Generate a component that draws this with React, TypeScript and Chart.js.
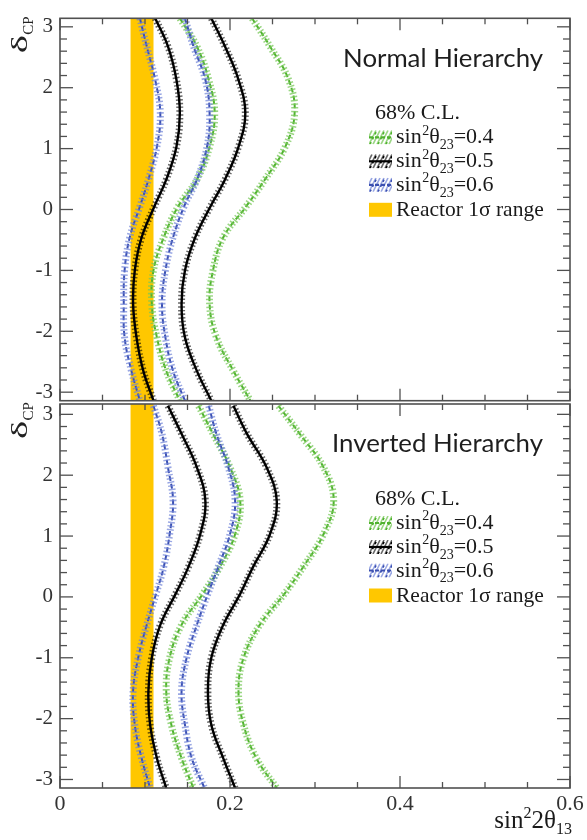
import React, { useEffect, useRef } from "react";
import { Chart, registerables } from "chart.js";

Chart.register(...registerables);

const W = 587;
const H = 840;
const SERIF = '"Liberation Serif", "Times New Roman", serif';
const SANS = 'Lato, "Open Sans", sans-serif';

// delta_CP sample points (y values) shared by all contours
const DELTA = [3.14, 2.68, 2.13, 1.58, 1.03, 0.49, 0.05, -0.46, -1.0, -1.55, -2.1, -2.65, -3.14];

// Reactor 1 sigma range in sin^2 2theta13
const REACTOR_BAND = [0.083, 0.110];

// Normal hierarchy contours (sin^2 2theta13 at each DELTA)
const NH_S04_IN = [0.141, 0.161, 0.175, 0.182, 0.176, 0.161, 0.139, 0.122, 0.110, 0.108, 0.114, 0.125, 0.141];
const NH_S04_OUT = [0.226, 0.247, 0.269, 0.276, 0.265, 0.241, 0.219, 0.192, 0.180, 0.176, 0.184, 0.204, 0.224];
const NH_S05_IN = [0.112, 0.127, 0.137, 0.141, 0.137, 0.125, 0.111, 0.096, 0.088, 0.086, 0.090, 0.098, 0.110];
const NH_S05_OUT = [0.178, 0.194, 0.210, 0.218, 0.210, 0.194, 0.177, 0.159, 0.147, 0.143, 0.147, 0.161, 0.178];
const NH_S06_IN = [0.094, 0.102, 0.112, 0.118, 0.114, 0.104, 0.094, 0.082, 0.076, 0.075, 0.076, 0.084, 0.094];
const NH_S06_OUT = [0.147, 0.157, 0.171, 0.176, 0.173, 0.161, 0.146, 0.133, 0.124, 0.120, 0.124, 0.133, 0.147];

// Inverted hierarchy contours
const IH_S04_IN = [0.163, 0.180, 0.200, 0.212, 0.206, 0.188, 0.168, 0.143, 0.129, 0.125, 0.131, 0.143, 0.157];
const IH_S04_OUT = [0.257, 0.282, 0.310, 0.322, 0.310, 0.286, 0.264, 0.235, 0.216, 0.210, 0.216, 0.231, 0.255];
const IH_S05_IN = [0.127, 0.143, 0.161, 0.171, 0.165, 0.151, 0.136, 0.118, 0.108, 0.104, 0.106, 0.114, 0.125];
const IH_S05_OUT = [0.204, 0.220, 0.243, 0.255, 0.247, 0.227, 0.212, 0.192, 0.178, 0.174, 0.178, 0.192, 0.206];
const IH_S06_IN = [0.110, 0.120, 0.127, 0.133, 0.129, 0.122, 0.113, 0.102, 0.092, 0.086, 0.088, 0.096, 0.106];
const IH_S06_OUT = [0.175, 0.184, 0.198, 0.206, 0.200, 0.186, 0.174, 0.161, 0.149, 0.143, 0.147, 0.155, 0.170];

const PANEL_TITLES = ["Normal Hierarchy", "Inverted Hierarchy"];
const CL_LABEL = "68% C.L.";
const SIN23_VALUES = ["0.4", "0.5", "0.6"];
const REACTOR_LABEL = "Reactor 1σ range";

const GOLD = "#ffc700";
const GREEN = "#4fb22e";
const GREEN_L = "rgba(120,200,90,0.75)";
const BLUE = "#3a4fb0";
const BLUE_L = "rgba(110,130,215,0.7)";
const BLACK = "#000000";
const BLACK_L = "rgba(0,0,0,0.6)";
const FRAME = "#505050";

const STYLES = [
  { dark: GREEN, light: GREEN_L, solid: false },
  { dark: BLACK, light: BLACK_L, solid: true },
  { dark: BLUE, light: BLUE_L, solid: false },
];

function curve(xs: number[], st: { dark: string; light: string; solid: boolean }) {
  const data = xs.map((v, i) => ({ x: v, y: DELTA[i] }));
  return [
    {
      data,
      showLine: true,
      borderColor: st.light,
      borderWidth: 7,
      borderDash: [1.5, 2.2],
      pointRadius: 0,
      tension: 0.4,
      fill: false,
    },
    {
      data,
      showLine: true,
      borderColor: st.dark,
      borderWidth: st.solid ? 2.4 : 2,
      borderDash: st.solid ? [] : [5, 3],
      pointRadius: 0,
      tension: 0.4,
      fill: false,
    },
  ];
}

function line(ctx: CanvasRenderingContext2D, x0: number, y0: number, x1: number, y1: number) {
  ctx.beginPath();
  ctx.moveTo(x0, y0);
  ctx.lineTo(x1, y1);
  ctx.stroke();
}

function drawSinTheta(ctx: CanvasRenderingContext2D, x: number, y: number, val: string, size: number) {
  const small = Math.round(size * 0.62);
  ctx.textAlign = "left";
  ctx.textBaseline = "alphabetic";
  ctx.font = `${size}px ${SERIF}`;
  ctx.fillText("sin", x, y);
  x += ctx.measureText("sin").width;
  ctx.font = `${small}px ${SERIF}`;
  ctx.fillText("2", x + 0.5, y - size * 0.4);
  x += ctx.measureText("2").width + 0.5;
  ctx.font = `${size}px ${SERIF}`;
  ctx.fillText("θ", x, y);
  x += ctx.measureText("θ").width;
  ctx.font = `${small}px ${SERIF}`;
  ctx.fillText("23", x, y + size * 0.26);
  x += ctx.measureText("23").width;
  ctx.font = `${size}px ${SERIF}`;
  ctx.fillText("=" + val, x, y);
}

function drawSymbol(ctx: CanvasRenderingContext2D, x: number, c: number, st: { dark: string; light: string; solid: boolean }) {
  const w = 23;
  const h = 14;
  ctx.save();
  ctx.beginPath();
  ctx.rect(x, c - h / 2, w, h);
  ctx.clip();
  ctx.lineWidth = 1.6;
  ctx.strokeStyle = st.light;
  for (let i = -4; i < 8; i++) {
    line(ctx, x + i * 4, c + h / 2, x + i * 4 + 7, c - h / 2);
  }
  ctx.strokeStyle = st.dark;
  ctx.setLineDash([2.5, 3]);
  for (let i = -4; i < 8; i += 2) {
    line(ctx, x + i * 4 + 1, c + h / 2, x + i * 4 + 8, c - h / 2);
  }
  ctx.restore();
  ctx.save();
  ctx.strokeStyle = st.dark;
  ctx.lineWidth = 2.2;
  ctx.setLineDash(st.solid ? [] : [4, 2]);
  line(ctx, x, c, x + w, c);
  ctx.restore();
}

function makeOverlay(isNH: boolean) {
  return {
    id: "overlay" + (isNH ? "NH" : "IH"),
    beforeDatasetsDraw(chart: any) {
      const { ctx, chartArea: a, scales } = chart;
      const xs = scales.x;
      const x0 = xs.getPixelForValue(REACTOR_BAND[0]);
      const x1 = xs.getPixelForValue(REACTOR_BAND[1]);
      ctx.save();
      ctx.fillStyle = GOLD;
      ctx.fillRect(x0, a.top, x1 - x0, a.bottom - a.top);
      ctx.restore();
    },
    afterDatasetsDraw(chart: any) {
      const { ctx, chartArea: a, scales } = chart;
      const xs = scales.x;
      const ys = scales.y;
      ctx.save();
      // frame
      ctx.strokeStyle = FRAME;
      ctx.lineWidth = 1.6;
      ctx.strokeRect(a.left, a.top, a.right - a.left, a.bottom - a.top);
      ctx.lineWidth = 1.3;
      for (let k = -16; k <= 16; k++) {
        const v = k * 0.2;
        if (v < ys.min - 1e-9 || v > ys.max + 1e-9) continue;
        const len = k % 5 === 0 ? 13 : 7;
        const py = ys.getPixelForValue(v);
        line(ctx, a.left, py, a.left + len, py);
        line(ctx, a.right, py, a.right - len, py);
      }
      for (let k = 0; k <= 12; k++) {
        const v = k * 0.05;
        const len = k % 4 === 0 ? 12 : 6;
        const px = xs.getPixelForValue(v);
        line(ctx, px, a.top, px, a.top + len);
        line(ctx, px, a.bottom, px, a.bottom - len);
      }

      // y title delta_CP
      ctx.fillStyle = "#222";
      ctx.save();
      ctx.translate(27, a.top + 35);
      ctx.rotate(-Math.PI / 2);
      ctx.textAlign = "left";
      ctx.textBaseline = "alphabetic";
      ctx.font = `24px ${SERIF}`;
      const dw = ctx.measureText("δ").width;
      ctx.save();
      ctx.scale(1.6, 1);
      ctx.fillText("δ", 0, 0);
      ctx.restore();
      ctx.font = `15px ${SERIF}`;
      ctx.fillText("CP", dw * 1.6 + 0.5, 6);
      ctx.restore();

      // panel title
      const title = PANEL_TITLES[isNH ? 0 : 1];
      const target = isNH ? 200 : 211;
      ctx.font = `24px ${SANS}`;
      const tw = ctx.measureText(title).width;
      const ts = 24 * (target / tw);
      ctx.font = `${ts.toFixed(2)}px ${SANS}`;
      ctx.textAlign = "right";
      ctx.textBaseline = "middle";
      ctx.fillStyle = "#1e1e1e";
      ctx.fillText(title, 543, a.top + 40);

      // legend
      ctx.fillStyle = "#1a1a1a";
      ctx.textAlign = "left";
      ctx.textBaseline = "alphabetic";
      ctx.font = `22px ${SERIF}`;
      ctx.fillText(CL_LABEL, 375, a.top + 93 + 7.5);
      const rows = [119, 143, 166.5];
      SIN23_VALUES.forEach((v, i) => {
        const c = a.top + rows[i];
        drawSymbol(ctx, 369, c, STYLES[i]);
        ctx.fillStyle = "#1a1a1a";
        drawSinTheta(ctx, 396, c + 6, v, 22);
      });
      const rc = a.top + 191.5;
      ctx.fillStyle = GOLD;
      ctx.fillRect(369, rc - 7, 23, 14);
      ctx.fillStyle = "#1a1a1a";
      ctx.font = `21.5px ${SERIF}`;
      ctx.textAlign = "left";
      ctx.fillText(REACTOR_LABEL, 396, rc + 6.5);

      // x title
      if (!isNH) {
        let x = 572;
        const parts: [string, number, number][] = [
          ["sin", 25, 0],
          ["2", 16, -10],
          ["2θ", 25, 0],
          ["13", 16, 6],
        ];
        let total = 0;
        parts.forEach(([t, s]) => {
          ctx.font = `${s}px ${SERIF}`;
          total += ctx.measureText(t).width;
        });
        x -= total;
        parts.forEach(([t, s, dy]) => {
          ctx.font = `${s}px ${SERIF}`;
          ctx.fillText(t, x, 828 + dy);
          x += ctx.measureText(t).width;
        });
      }
      ctx.restore();
    },
  };
}

function buildConfig(isNH: boolean): any {
  const top = isNH ? 18.3 : 404;
  const bottom = isNH ? 400.7 : 788;
  const sets = isNH
    ? [
        [NH_S06_IN, NH_S06_OUT, 2],
        [NH_S04_IN, NH_S04_OUT, 0],
        [NH_S05_IN, NH_S05_OUT, 1],
      ]
    : [
        [IH_S06_IN, IH_S06_OUT, 2],
        [IH_S04_IN, IH_S04_OUT, 0],
        [IH_S05_IN, IH_S05_OUT, 1],
      ];
  const datasets: any[] = [];
  sets.forEach(([inn, out, si]: any) => {
    datasets.push(...curve(inn, STYLES[si]), ...curve(out, STYLES[si]));
  });
  return {
    type: "scatter",
    data: { datasets },
    options: {
      animation: false,
      responsive: false,
      devicePixelRatio: 1,
      events: [],
      layout: {
        autoPadding: false,
        padding: { top, bottom: isNH ? H - bottom : 0, left: 0, right: W - 570 },
      },
      plugins: { legend: { display: false }, tooltip: { enabled: false } },
      scales: {
        x: {
          type: "linear",
          min: 0,
          max: 0.6,
          display: !isNH,
          grid: { display: false, drawTicks: false },
          border: { display: false },
          ticks: {
            stepSize: 0.2,
            includeBounds: false,
            autoSkip: false,
            maxRotation: 0,
            font: { family: SERIF, size: 22 },
            color: "#333",
            padding: 3,
          },
          afterFit: (s: any) => {
            if (!isNH) {
              s.height = H - 788;
            }
            s.paddingLeft = 0;
            s.paddingRight = 0;
          },
        },
        y: {
          type: "linear",
          min: -3.14,
          max: isNH ? 3.14 : 3.17,
          grid: { display: false, drawTicks: false },
          border: { display: false },
          ticks: {
            stepSize: 1,
            includeBounds: false,
            font: { family: SERIF, size: 21 },
            color: "#333",
            padding: 7,
          },
          afterFit: (s: any) => {
            s.width = 60;
            s.paddingTop = 0;
            s.paddingBottom = 0;
          },
        },
      },
    },
    plugins: [makeOverlay(isNH)],
  };
}

export default function App() {
  const topRef = useRef<HTMLCanvasElement>(null);
  const botRef = useRef<HTMLCanvasElement>(null);
  useEffect(() => {
    const c1 = new Chart(topRef.current as HTMLCanvasElement, buildConfig(true));
    const c2 = new Chart(botRef.current as HTMLCanvasElement, buildConfig(false));
    return () => {
      c1.destroy();
      c2.destroy();
    };
  }, []);
  return (
    <div style={{ position: "absolute", left: 0, top: 0, width: W, height: H, background: "#fff" }}>
      <canvas ref={topRef} width={W} height={H} style={{ position: "absolute", left: 0, top: 0 }} />
      <canvas ref={botRef} width={W} height={H} style={{ position: "absolute", left: 0, top: 0 }} />
    </div>
  );
}
